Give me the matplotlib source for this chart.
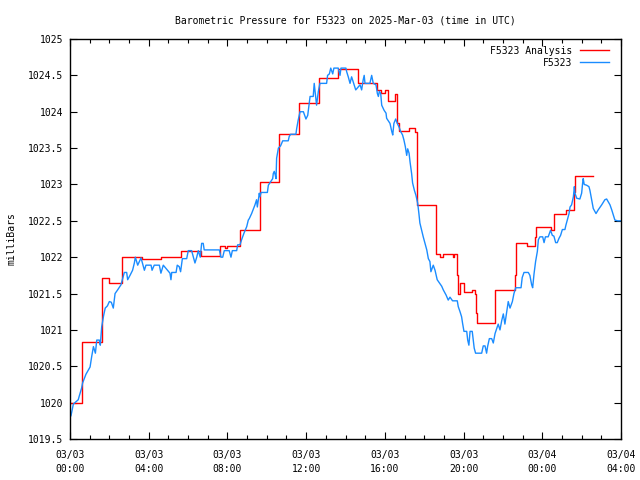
import matplotlib
matplotlib.use("Agg")
import matplotlib.pyplot as plt
from matplotlib.ticker import MultipleLocator

# hours since 2025-03-03 00:00 UTC
obs_hours = [
    0.05, 0.17, 0.42, 0.47, 0.59, 0.64, 0.81, 1.02, 1.10, 1.19, 1.29, 1.36, 1.49, 1.54,
    1.61, 1.71, 1.79, 1.90, 2.00, 2.10, 2.20, 2.29, 2.42, 2.59, 2.68, 2.76, 2.88, 2.93,
    3.05, 3.18, 3.27, 3.32, 3.44, 3.61, 3.78, 3.86, 4.12, 4.17, 4.28, 4.54, 4.62, 4.74,
    5.08, 5.13, 5.17, 5.39, 5.45, 5.55, 5.62, 5.71, 5.93, 6.01, 6.18, 6.27, 6.35, 6.44,
    6.52, 6.62, 6.69, 6.77, 6.82, 7.59, 7.67, 7.76, 7.84, 8.09, 8.18, 8.25, 8.47, 8.52,
    8.64, 8.72, 8.84, 8.98, 9.06, 9.11, 9.23, 9.40, 9.48, 9.52, 9.62, 9.65, 9.71, 10.03,
    10.08, 10.30, 10.33, 10.38, 10.43, 10.47, 10.50, 10.59, 10.70, 10.81, 11.09, 11.14,
    11.21, 11.48, 11.52, 11.60, 11.69, 11.86, 11.99, 12.08, 12.16, 12.20, 12.36, 12.41,
    12.53, 12.62, 12.70, 13.04, 13.09, 13.18, 13.25, 13.35, 13.41, 13.63, 13.72, 13.77,
    14.02, 14.06, 14.14, 14.23, 14.31, 14.52, 14.74, 14.82, 14.90, 14.95, 14.99, 15.24,
    15.33, 15.41, 15.55, 15.62, 15.67, 15.72, 15.79, 15.84, 15.96, 16.06, 16.09, 16.26,
    16.35, 16.40, 16.46, 16.55, 16.63, 16.72, 16.80, 16.90, 16.97, 17.04, 17.11, 17.16,
    17.23, 17.28, 17.36, 17.41, 17.50, 17.58, 17.67, 17.73, 17.78, 17.87, 17.95, 18.04,
    18.13, 18.21, 18.29, 18.34, 18.46, 18.55, 18.66, 18.89, 18.97, 19.11, 19.22, 19.31,
    19.44, 19.68, 19.73, 19.82, 19.90, 19.95, 20.02, 20.16, 20.21, 20.27, 20.33, 20.44,
    20.49, 20.54, 20.61, 20.92, 21.00, 21.09, 21.17, 21.22, 21.31, 21.43, 21.51, 21.60,
    21.76, 21.85, 21.94, 22.02, 22.10, 22.19, 22.27, 22.36, 22.48, 22.56, 22.65, 22.92,
    22.98, 23.07, 23.29, 23.37, 23.46, 23.51, 23.58, 23.66, 23.75, 23.80, 23.88, 24.02,
    24.09, 24.16, 24.30, 24.42, 24.51, 24.59, 24.68, 24.76, 24.85, 24.93, 25.02, 25.15,
    25.20, 25.27, 25.36, 25.41, 25.49, 25.58, 25.63, 25.66, 25.75, 25.91, 26.00, 26.05,
    26.08, 26.13, 26.25, 26.37, 26.42, 26.51, 26.59, 26.73, 26.84, 27.02, 27.18, 27.27,
    27.44, 27.53, 27.61, 27.69, 27.83, 28.00,
]
obs_mbar = [
    1019.82, 1019.98, 1020.04, 1020.09, 1020.20, 1020.27, 1020.39, 1020.49, 1020.63, 1020.77,
    1020.68, 1020.86, 1020.86, 1020.79, 1021.04, 1021.20, 1021.30, 1021.33, 1021.39, 1021.38,
    1021.30, 1021.50, 1021.55, 1021.62, 1021.71, 1021.79, 1021.79, 1021.69, 1021.75, 1021.82,
    1021.92, 1022.00, 1021.89, 1021.99, 1021.82, 1021.89, 1021.89, 1021.82, 1021.89, 1021.89,
    1021.78, 1021.89, 1021.78, 1021.69, 1021.79, 1021.79, 1021.89, 1021.87, 1021.80, 1021.98,
    1021.98, 1022.09, 1022.09, 1022.00, 1021.92, 1022.00, 1022.09, 1022.00, 1022.19, 1022.19,
    1022.10, 1022.10, 1022.00, 1022.00, 1022.09, 1022.09, 1022.00, 1022.09, 1022.09, 1022.17,
    1022.17, 1022.24, 1022.33, 1022.42, 1022.51, 1022.53, 1022.60, 1022.72, 1022.79, 1022.69,
    1022.88, 1022.83, 1022.89, 1022.89, 1022.99, 1023.08, 1023.15, 1023.18, 1023.13, 1023.08,
    1023.36, 1023.50, 1023.53, 1023.60, 1023.60, 1023.66, 1023.69, 1023.69, 1023.77, 1023.89,
    1024.00, 1024.00, 1023.90, 1023.95, 1024.12, 1024.21, 1024.21, 1024.39, 1024.09, 1024.28,
    1024.39, 1024.39, 1024.50, 1024.52, 1024.60, 1024.52, 1024.60, 1024.60, 1024.50, 1024.60,
    1024.60, 1024.55, 1024.48, 1024.39, 1024.48, 1024.30, 1024.37, 1024.30, 1024.44, 1024.50,
    1024.39, 1024.39, 1024.50, 1024.39, 1024.37, 1024.25, 1024.21, 1024.28, 1024.25, 1024.09,
    1024.02, 1023.98, 1023.91, 1023.84, 1023.73, 1023.68, 1023.84, 1023.90, 1023.84, 1023.79,
    1023.73, 1023.68, 1023.61, 1023.52, 1023.40, 1023.49, 1023.43, 1023.31, 1023.15, 1023.02,
    1022.92, 1022.85, 1022.74, 1022.60, 1022.47, 1022.37, 1022.28, 1022.19, 1022.10, 1021.98,
    1021.94, 1021.80, 1021.89, 1021.82, 1021.69, 1021.60, 1021.55, 1021.48, 1021.41, 1021.45,
    1021.40, 1021.40, 1021.32, 1021.25, 1021.18, 1021.09, 1020.98, 1020.98, 1020.86, 1020.79,
    1020.98, 1020.98, 1020.86, 1020.75, 1020.68, 1020.68, 1020.78, 1020.78, 1020.68, 1020.77,
    1020.88, 1020.88, 1020.82, 1020.95, 1021.08, 1021.00, 1021.13, 1021.22, 1021.08, 1021.24,
    1021.39, 1021.30, 1021.39, 1021.50, 1021.58, 1021.58, 1021.72, 1021.79, 1021.79, 1021.75,
    1021.62, 1021.58, 1021.77, 1021.94, 1022.08, 1022.24, 1022.28, 1022.28, 1022.20, 1022.28,
    1022.28, 1022.37, 1022.30, 1022.29, 1022.20, 1022.20, 1022.26, 1022.30, 1022.38, 1022.38,
    1022.44, 1022.51, 1022.60, 1022.69, 1022.72, 1022.83, 1022.97, 1022.88, 1022.81, 1022.80,
    1022.88, 1023.02, 1023.08, 1023.00, 1022.99, 1022.97, 1022.92, 1022.79, 1022.67, 1022.60,
    1022.65, 1022.72, 1022.79, 1022.80, 1022.72, 1022.65, 1022.58, 1022.51, 1022.50, 1022.50,
]

# analysis: value holds from each change time until the next
ana_hours = [
    0.00, 0.62, 1.62, 1.98, 2.64, 3.64, 4.62, 5.62, 6.66, 7.62, 7.90, 8.00, 8.62, 9.63,
    10.60, 11.65, 12.65, 13.60, 14.65, 15.60, 15.80, 16.00, 16.15, 16.50, 16.60, 16.70,
    17.25, 17.55, 17.65, 18.62, 18.80, 18.95, 19.45, 19.52, 19.65, 19.72, 19.82, 20.00,
    20.44, 20.57, 20.63, 20.68, 21.62, 22.60, 22.65, 23.23, 23.62, 23.68, 24.42, 24.62,
    25.20, 25.62, 25.67, 26.60,
]
ana_mbar = [
    1020.00, 1020.83, 1021.72, 1021.64, 1022.00, 1021.98, 1022.00, 1022.09, 1022.02, 1022.16,
    1022.13, 1022.16, 1022.38, 1023.04, 1023.69, 1024.12, 1024.46, 1024.59, 1024.40, 1024.30,
    1024.26, 1024.30, 1024.15, 1024.25, 1023.84, 1023.74, 1023.77, 1023.72, 1022.72, 1022.04,
    1022.00, 1022.04, 1022.00, 1022.04, 1021.75, 1021.50, 1021.64, 1021.52, 1021.55, 1021.50,
    1021.23, 1021.10, 1021.55, 1021.75, 1022.19, 1022.15, 1022.28, 1022.41, 1022.37, 1022.60,
    1022.65, 1022.90, 1023.12, 1023.12,
]

x_tick_labels = ["03/03\n00:00", "03/03\n04:00", "03/03\n08:00", "03/03\n12:00",
                 "03/03\n16:00", "03/03\n20:00", "03/04\n00:00", "03/04\n04:00"]
y_ticks = [1019.5, 1020, 1020.5, 1021, 1021.5, 1022, 1022.5, 1023, 1023.5, 1024, 1024.5, 1025]
y_tick_labels = ["1019.5", "1020", "1020.5", "1021", "1021.5", "1022", "1022.5",
                 "1023", "1023.5", "1024", "1024.5", "1025"]

plt.rcParams["font.family"] = "DejaVu Sans Mono"
FS = 7.0

fig = plt.figure(figsize=(6.4, 4.8), dpi=100)
ax = fig.add_axes([70 / 640, 1 - 439 / 480, 551 / 640, 400 / 480])

ax.step(ana_hours, ana_mbar, where="post", color="#ff0000", lw=1.0, label="F5323 Analysis")
ax.plot(obs_hours, obs_mbar, color="#1a8cff", lw=1.0, label="F5323")

ax.set_xlim(0, 28)
ax.set_ylim(1019.5, 1025)
ax.set_xticks(range(0, 29, 4))
ax.set_xticklabels(x_tick_labels, fontsize=FS, linespacing=1.45)
ax.xaxis.set_minor_locator(MultipleLocator(1))
ax.set_yticks(y_ticks)
ax.set_yticklabels(y_tick_labels, fontsize=FS)

ax.tick_params(which="both", direction="in", top=True, right=True, color="black")
ax.tick_params(which="major", length=5, width=0.8, pad=5)
ax.tick_params(axis="x", which="major", pad=8)
ax.tick_params(which="minor", length=3, width=0.8)
for sp in ax.spines.values():
    sp.set_linewidth(1.0)

ax.set_ylabel("milliBars", fontsize=FS, labelpad=8)
ax.set_title("Barometric Pressure for F5323 on 2025-Mar-03 (time in UTC)", fontsize=FS, pad=11)

ax.legend(loc="upper right", frameon=False, fontsize=FS, markerfirst=False,
          handlelength=3.0, handletextpad=0.7, labelspacing=0.2,
          borderaxespad=0.3, bbox_to_anchor=(0.99, 1.0))

fig.savefig("out.png", dpi=100)
